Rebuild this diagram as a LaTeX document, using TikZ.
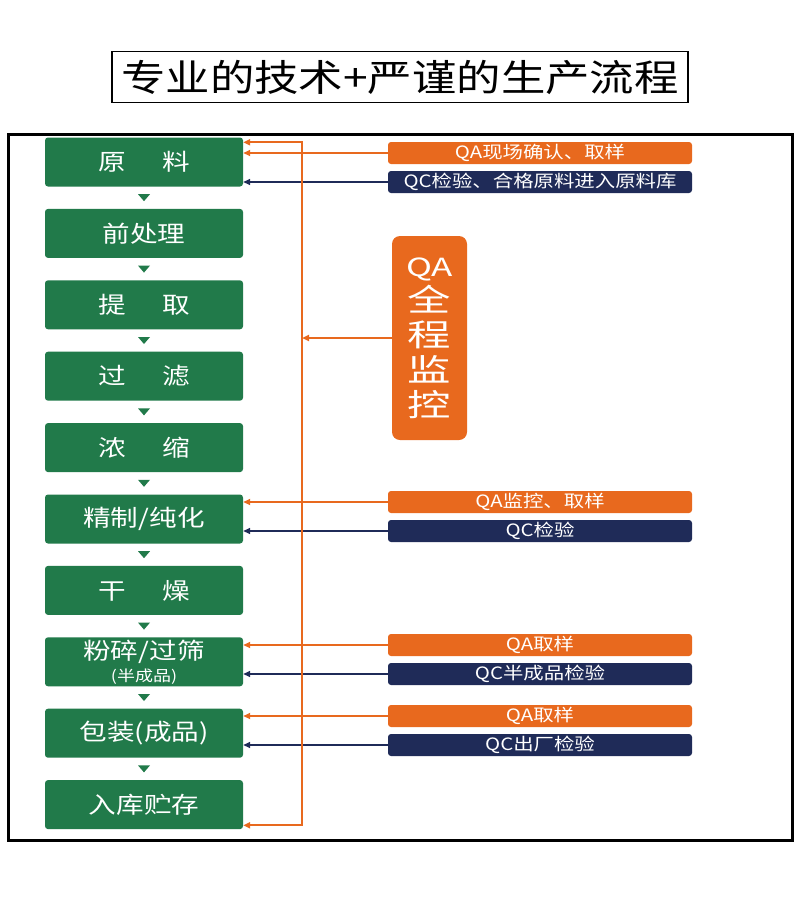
\documentclass[tikz,border=0pt]{standalone}
\usepackage{fontspec}
\newfontfamily\cjk[FakeStretch=1.2]{Noto Sans CJK SC}
\newfontfamily\cjkwide[FakeStretch=1.4]{Noto Sans CJK SC}
\usetikzlibrary{positioning, calc, arrows.meta}
\definecolor{stepgreen}{HTML}{217A4A}
\definecolor{qaorange}{HTML}{E8691E}
\definecolor{qcnavy}{HTML}{1F2B58}
\tikzset{
  stepbox/.style={fill=stepgreen, rounded corners=3pt, minimum width=198pt, minimum height=49pt,
    inner sep=2pt, text=white, align=center, font=\cjk\fontsize{23}{24}\selectfont},
  qabox/.style={fill=qaorange, rounded corners=3pt, minimum width=304pt, minimum height=22pt,
    inner sep=0pt, text=white, font=\cjk\fontsize{17}{18}\selectfont},
  qcbox/.style={qabox, fill=qcnavy},
  qaline/.style={draw=qaorange, line width=1.8pt, ->},
  qcline/.style={draw=qcnavy, line width=1.5pt, ->},
}

\begin{document}
\begin{tikzpicture}[x=1pt, y=-1pt, node distance=22pt, >={Triangle[length=7pt,width=6pt]}]
    \useasboundingbox (0,0) rectangle (800,900);

    % Title
    \node[draw, line width=1.5pt, minimum width=576pt, minimum height=51pt, inner sep=0pt,
      font=\cjk\fontsize{37}{38}\selectfont] (title) at (400,77) {专业的技术+严谨的生产流程};

    % Frame
    \draw[line width=3pt] (8,134) rectangle (792,840);

    % Process steps
    \node[stepbox] (s1) at (144,162) {原\hspace{1.6em}料};
    \node[stepbox, below=of s1] (s2) {前处理};
    \node[stepbox, below=of s2] (s3) {提\hspace{1.6em}取};
    \node[stepbox, below=of s3] (s4) {过\hspace{1.6em}滤};
    \node[stepbox, below=of s4] (s5) {浓\hspace{1.6em}缩};
    \node[stepbox, below=of s5] (s6) {精制/纯化};
    \node[stepbox, below=of s6] (s7) {干\hspace{1.6em}燥};
    \node[stepbox, below=of s7] (s8) {粉碎/过筛\\[-2pt]{\fontsize{15}{16}\selectfont (半成品)}};
    \node[stepbox, below=of s8] (s9) {包装(成品)};
    \node[stepbox, below=of s9] (s10) {入库贮存};

    % Small arrows between steps
    \foreach \a/\b in {s1/s2, s2/s3, s3/s4, s4/s5, s5/s6, s6/s7, s7/s8, s8/s9, s9/s10}
        \fill[stepgreen] ($(\a.south)!0.5!(\b.north)$) +(-6,-3.5) -- +(6,-3.5) -- +(0,3.5) -- cycle;

    % QA / QC checks
    \node[qabox] (qa1) at (540,153) {QA现场确认、取样};
    \node[qcbox] (qc1) at (540,182) {QC检验、合格原料进入原料库};
    \node[qabox] (qa6) at (540,502) {QA监控、取样};
    \node[qcbox] (qc6) at (540,531) {QC检验};
    \node[qabox] (qa8) at (540,645) {QA取样};
    \node[qcbox] (qc8) at (540,674) {QC半成品检验};
    \node[qabox] (qa9) at (540,716) {QA取样};
    \node[qcbox] (qc9) at (540,745) {QC出厂检验};

    \foreach \c/\s in {qa1/s1, qa6/s6, qa8/s8, qa9/s9}
        \draw[qaline] (\c.west) -- (\c.west -| \s.east);
    \foreach \c/\s in {qc1/s1, qc6/s6, qc8/s8, qc9/s9}
        \draw[qcline] (\c.west) -- (\c.west -| \s.east);

    % QA monitoring
    \node[fill=qaorange, rounded corners=8pt, minimum width=75pt, minimum height=204pt, inner sep=0pt,
      text=white, align=center, font=\cjkwide\fontsize{31}{35}\selectfont] (mon) at (429.5,338)
      {{\fontsize{25}{32}\selectfont QA}\\全\\程\\监\\控};
    \coordinate (bus) at (302,338);
    \draw[qaline] (mon.west) -- (bus);
    \draw[qaline, <->] ([yshift=-5pt]s1.north east) -| (bus) |- ([yshift=4pt]s10.south east);

\end{tikzpicture}
\end{document}
